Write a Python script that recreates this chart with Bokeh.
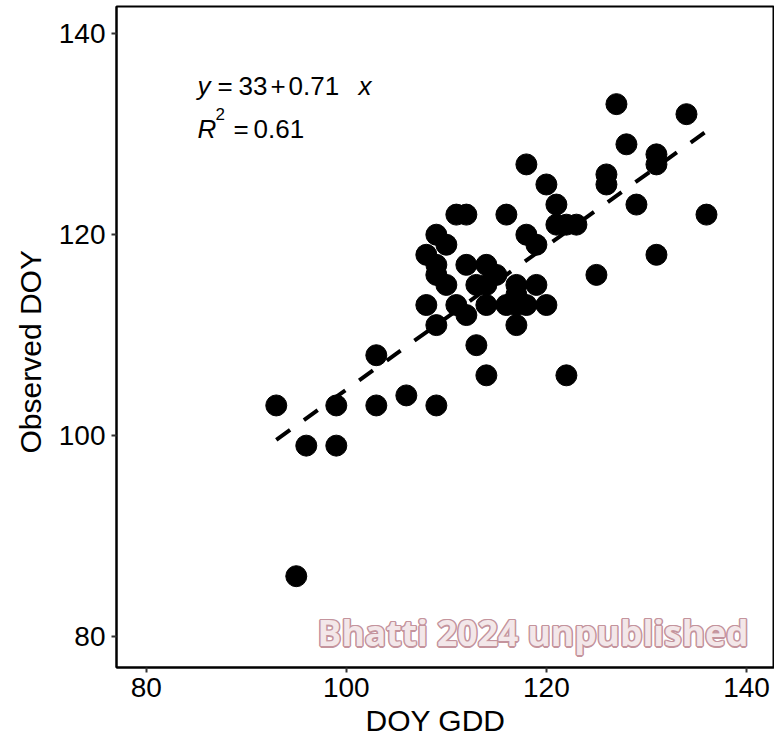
import numpy as np
from bokeh.plotting import figure
from bokeh.models import Label, Range1d, FixedTicker, Title
from bokeh.embed import file_html
from bokeh.resources import INLINE

# Data
doy_gdd = [93, 96, 99, 99, 95, 103, 103, 106, 109,
           108, 108, 109, 109, 109, 109, 110, 110, 111, 112, 111, 112, 112,
           113, 113, 114, 114, 114, 114, 115, 116, 116, 117, 117, 117, 117,
           118, 118, 118, 119, 119, 120, 120, 121, 121, 122, 122, 123, 125,
           126, 126, 127, 128, 129, 131, 131, 131, 134, 136]
observed_doy = [103, 99, 99, 103, 86, 108, 103, 104, 103,
                118, 113, 120, 117, 116, 111, 119, 115, 122, 122, 113, 117, 112,
                109, 115, 117, 115, 113, 106, 116, 122, 113, 115, 114, 113, 111,
                127, 120, 113, 119, 115, 125, 113, 123, 121, 121, 106, 121, 116,
                126, 125, 133, 129, 123, 128, 127, 118, 132, 122]

x_ticks = [80, 100, 120, 140]
y_ticks = [80, 100, 120, 140]
x_title = "DOY GDD"
y_title = "Observed DOY"
eq_intercept = 33
eq_slope = 0.71
eq_r2 = 0.61
watermark = "Bhatti 2024 unpublished"

FONT = "Liberation Sans"

p = figure(width=774, height=742, output_backend="svg", toolbar_location=None,
           x_range=Range1d(77.03, 142.8), y_range=Range1d(76.91, 142.72),
           min_border_left=116, min_border_right=0, min_border_top=6,
           min_border_bottom=75)
p.title = None
p.background_fill_color = "white"
p.border_fill_color = "white"
p.xgrid.visible = False
p.ygrid.visible = False
p.outline_line_color = "black"
p.outline_line_width = 2

for ax, ticks in ((p.xaxis[0], x_ticks), (p.yaxis[0], y_ticks)):
    ax.ticker = FixedTicker(ticks=ticks)
    ax.major_label_text_font = FONT
    ax.major_label_text_font_size = "28px"
    ax.major_label_text_color = "black"
    ax.axis_line_color = "black"
    ax.axis_line_width = 2
    ax.major_tick_line_color = "#333333"
    ax.major_tick_line_width = 2
    ax.major_tick_out = 5
    ax.major_tick_in = 0
    ax.minor_tick_line_color = None

p.xaxis[0].major_label_standoff = 5
p.yaxis[0].major_label_standoff = 6

# axis titles (placed as in the reference)
p.add_layout(Title(text=x_title, text_font=FONT, text_font_size="30px",
                   text_font_style="normal", text_color="black",
                   align="left", offset=249, standoff=5), "below")
p.add_layout(Title(text=y_title, text_font=FONT, text_font_size="30px",
                   text_font_style="normal", text_color="black",
                   align="left", offset=214, standoff=18), "left")

# regression line
coef = np.polyfit(doy_gdd, observed_doy, 1)
xs = np.array([min(doy_gdd), max(doy_gdd)])
ys = coef[1] + coef[0] * xs
p.line(xs, ys, line_color="black", line_width=4, line_dash="17 17")

p.scatter(doy_gdd, observed_doy, size=21, fill_color="black", line_color="black")

# equation labels
def lab(x, y, t, italic=False, size="26px"):
    p.add_layout(Label(x=x, y=y, text=t, text_font=FONT, text_font_size=size,
                       text_font_style="italic" if italic else "normal",
                       text_color="black", text_baseline="alphabetic", text_align="left"))

lab(85.13, 134.8, "y", italic=True)
lab(87.13, 134.8, "=")
lab(89.23, 134.8, "%d" % eq_intercept)
lab(92.43, 134.8, "+")
lab(94.23, 134.8, "%.2f" % eq_slope)
lab(101.22, 134.8, "x", italic=True)
lab(85.13, 130.5, "R", italic=True)
lab(86.93, 132.0, "2", size="17px")
lab(88.73, 130.5, "=")
lab(90.73, 130.5, "%.2f" % eq_r2)

# watermark with outline
wm_x, wm_y = 140.2, 80.4
outline = "#c4949d"
for dx, dy in [(-1.5, 0), (1.5, 0), (0, -1.5), (0, 1.5), (-1, -1), (1, 1), (-1, 1), (1, -1)]:
    p.add_layout(Label(x=wm_x, y=wm_y, x_offset=dx, y_offset=dy, text=watermark,
                       text_font="Open Sans", text_font_size="35.5px", text_font_style="bold",
                       text_color=outline, text_align="right", text_baseline="alphabetic"))
p.add_layout(Label(x=wm_x, y=wm_y, text=watermark,
                   text_font="Open Sans", text_font_size="35.5px", text_font_style="bold",
                   text_color="#f3e7e9", text_align="right", text_baseline="alphabetic"))

open("out.html", "w").write(file_html(p, INLINE))
